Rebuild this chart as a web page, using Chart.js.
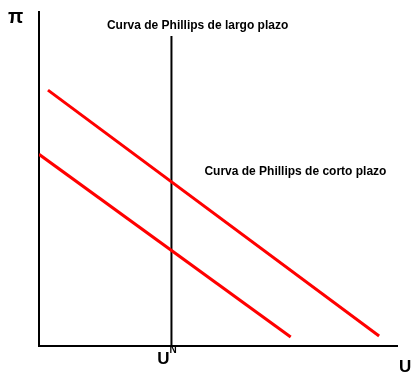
<!DOCTYPE html>
<html>
<head>
<meta charset="utf-8">
<script src="https://cdn.jsdelivr.net/npm/chart.js@4"></script>
<style>
  html, body { margin: 0; padding: 0; background: #fff; }
  #wrap { width: 414px; height: 375px; }
</style>
</head>
<body>
<div id="wrap"><canvas id="myChart"></canvas></div>
<script>
// curve end points (abstract units, 0..100 on both axes)
var corto1X = [2.5, 95], corto1Y = [76.6, 3.0]
var corto2X = [0, 70.3], corto2Y = [57.4, 2.7]
var largoX = [37, 37], largoY = [0, 92.8]

var labelLargo = 'Curva de Phillips de largo plazo'
var labelCorto = 'Curva de Phillips de corto plazo'
var yName = 'π', xName = 'U', uN = 'U', uNsup = 'N'

function pts (xs, ys) {
    return xs.map((x, i) => ({ x: x, y: ys[i] }))
}

const textPlugin = {
    id: 'texts',
    afterDraw (chart) {
        const ctx = chart.ctx
        const sx = chart.scales.x, sy = chart.scales.y
        ctx.save()
        ctx.fillStyle = '#000'
        ctx.textBaseline = 'middle'
        ctx.font = 'bold 12px "Liberation Sans", Arial, sans-serif'
        ctx.textAlign = 'center'
        ctx.fillText(labelLargo, sx.getPixelForValue(44.3), 26)
        ctx.textAlign = 'left'
        ctx.fillText(labelCorto, sx.getPixelForValue(46.2), sy.getPixelForValue(52.2))
        ctx.font = 'bold 20px "Liberation Sans", Arial, sans-serif'
        ctx.fillText(yName, 8, 17)
        ctx.font = 'bold 17px "Liberation Sans", Arial, sans-serif'
        ctx.fillText(xName, 399, 367)
        const ux = sx.getPixelForValue(largoX[0])
        ctx.textAlign = 'right'
        ctx.fillText(uN, ux - 2, 359)
        ctx.textAlign = 'left'
        ctx.font = 'bold 10px "Liberation Sans", Arial, sans-serif'
        ctx.fillText(uNsup, ux - 2, 350)
        ctx.restore()
    }
}

let ctx = document.getElementById('myChart').getContext('2d');
let myChart = new Chart(ctx, {
    type: 'scatter',
    data: {
        datasets: [{
            data: pts(corto1X, corto1Y),
            showLine: true,
            borderColor: 'red',
            borderWidth: 3,
            pointRadius: 0
        },
        {
            data: pts(corto2X, corto2Y),
            showLine: true,
            borderColor: 'red',
            borderWidth: 3,
            pointRadius: 0
        },
        {
            data: pts(largoX, largoY),
            showLine: true,
            borderColor: '#000',
            borderWidth: 2,
            pointRadius: 0
        }]
    },
    options: {
        responsive: true,
        maintainAspectRatio: false,
        animation: false,
        layout: { padding: { left: 39, right: 17, top: 12, bottom: 29 } },
        plugins: { legend: { display: false }, tooltip: { enabled: false } },
        scales: {
            x: {
                type: 'linear', min: 0, max: 100,
                grid: { display: false, drawTicks: false },
                border: { display: true, color: '#000', width: 2 },
                ticks: { display: false }
            },
            y: {
                type: 'linear', min: 0, max: 100,
                grid: { display: false, drawTicks: false },
                border: { display: true, color: '#000', width: 2 },
                ticks: { display: false }
            }
        }
    },
    plugins: [textPlugin]
});
</script>
</body>
</html>
